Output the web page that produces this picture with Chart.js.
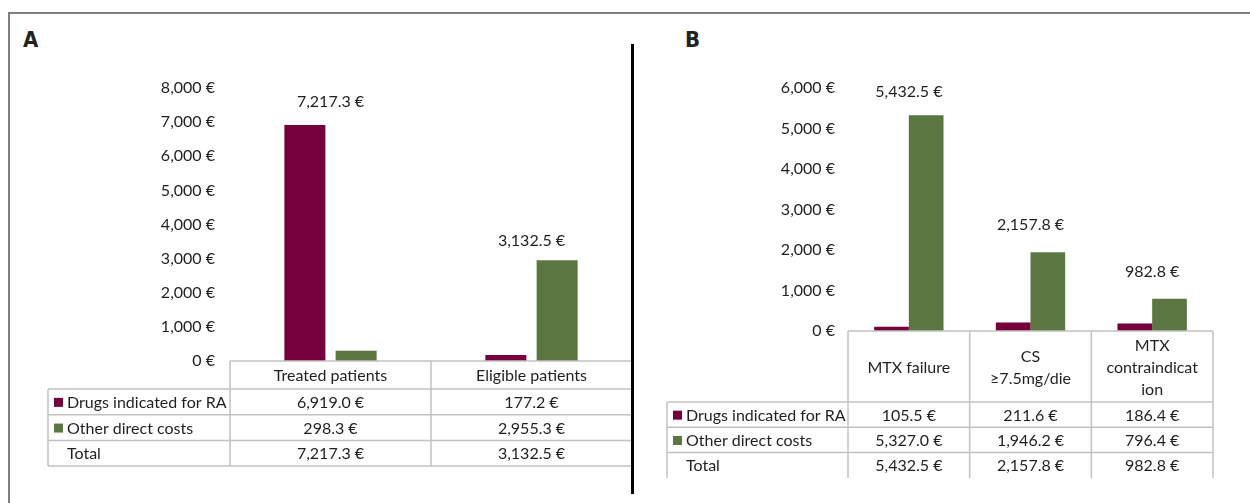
<!DOCTYPE html>
<html>
<head>
<meta charset="utf-8">
<script src="https://cdn.jsdelivr.net/npm/chart.js@4.4.1/dist/chart.umd.min.js"></script>
<style>
    body { margin: 0; background: #fff; width: 1250px; height: 503px; overflow: hidden; position: relative; }
    .frame-top { position: absolute; left: 8px; top: 12px; width: 1242px; height: 2px; background: #808080; }
    .frame-left { position: absolute; left: 8px; top: 12px; width: 2px; height: 491px; background: #808080; }
    .divider { position: absolute; left: 631px; top: 44px; width: 3px; height: 450px; background: #000; }
    .panel-letter { position: absolute; top: 27px; font: bold 22px 'Liberation Sans Narrow', 'DejaVu Sans Condensed', sans-serif; color: #222; }
    canvas { position: absolute; top: 0; }
</style>
</head>
<body>
<div class="frame-top"></div>
<div class="frame-left"></div>
<div class="panel-letter" style="left:23px">A</div>
<div class="panel-letter" style="left:685px">B</div>
<canvas id="chart-a" width="632" height="503" style="left:0"></canvas>
<canvas id="chart-b" width="618" height="503" style="left:632px"></canvas>
<div class="divider"></div>
<script>
// row names of the data table
const rowLabels = ["Drugs indicated for RA", "Other direct costs", "Total"];

// panel A data
const aCategories = ["Treated patients", "Eligible patients"];
const aDrugs = [6919.0, 177.2];
const aOther = [298.3, 2955.3];
const aTotal = [7217.3, 3132.5];
const aTicks = [0, 1000, 2000, 3000, 4000, 5000, 6000, 7000, 8000];

// panel B data
const bCategories = ["MTX failure", ["CS", "≥7.5mg/die"], ["MTX", "contraindicat", "ion"]];
const bDrugs = [105.5, 211.6, 186.4];
const bOther = [5327.0, 1946.2, 796.4];
const bTotal = [5432.5, 2157.8, 982.8];
const bTicks = [0, 1000, 2000, 3000, 4000, 5000, 6000];

const maroon = '#76003b';
const green = '#5b7640';
const textColor = '#1f1f1f';
const fontFamily = "Lato, 'Open Sans', sans-serif";
const fontSize = 16;

Chart.defaults.font.family = fontFamily;
Chart.defaults.font.size = fontSize;
Chart.defaults.color = textColor;

const euro = (v, d) => v.toLocaleString('en-US', { minimumFractionDigits: d, maximumFractionDigits: d }) + ' €';

// total labels above each group
function totalsPlugin(totals, gap) {
    return {
        id: 'totals',
        afterDatasetsDraw(chart) {
            const ctx = chart.ctx;
            const x = chart.scales.x;
            const y = chart.scales.y;
            ctx.save();
            ctx.font = fontSize + 'px ' + fontFamily;
            ctx.fillStyle = textColor;
            ctx.textAlign = 'center';
            ctx.textBaseline = 'middle';
            totals.forEach((t, i) => {
                ctx.fillText(euro(t, 1), x.getPixelForValue(i), y.getPixelForValue(t) - gap);
            });
            ctx.restore();
        }
    };
}

// data table drawn under the plot
function tablePlugin(opts) {
    return {
        id: 'dataTable',
        afterDraw(chart) {
            const ctx = chart.ctx;
            const x = chart.scales.x;
            const area = chart.chartArea;
            const labels = chart.data.labels;
            const colW = (area.right - area.left) / labels.length;
            const top = area.bottom;
            const headBottom = top + opts.headerHeight;
            const rowsBottom = headBottom + opts.rowHeight * 3;
            const rows = [chart.data.datasets[0].data, chart.data.datasets[1].data, opts.totals];
            const colors = [maroon, green, null];

            ctx.save();
            ctx.strokeStyle = '#c2c2c2';
            ctx.lineWidth = 1.5;
            ctx.beginPath();
            // header top
            ctx.moveTo(area.left, top);
            ctx.lineTo(area.right, top);
            // column lines
            for (let i = 0; i <= labels.length; i++) {
                const cx = area.left + i * colW;
                ctx.moveTo(cx, top);
                ctx.lineTo(cx, rowsBottom);
            }
            ctx.moveTo(opts.left, headBottom);
            ctx.lineTo(opts.left, rowsBottom);
            // row lines
            for (let r = 0; r <= 3; r++) {
                if (r === 3 && !opts.bottomLine) continue;
                const ry = headBottom + r * opts.rowHeight;
                ctx.moveTo(opts.left, ry);
                ctx.lineTo(area.right, ry);
            }
            ctx.stroke();

            ctx.fillStyle = textColor;
            ctx.font = fontSize + 'px ' + fontFamily;
            ctx.textBaseline = 'middle';
            ctx.textAlign = 'center';
            // category headers
            labels.forEach((lab, i) => {
                const lines = Array.isArray(lab) ? lab : [lab];
                const cx = x.getPixelForValue(i);
                const midY = (top + headBottom) / 2;
                lines.forEach((line, k) => {
                    ctx.fillText(line, cx, midY + (k - (lines.length - 1) / 2) * opts.lineHeight + 1);
                });
            });
            // rows
            rows.forEach((vals, r) => {
                const cy = headBottom + (r + 0.5) * opts.rowHeight + 1;
                ctx.textAlign = 'left';
                if (colors[r]) {
                    ctx.fillStyle = colors[r];
                    ctx.fillRect(opts.left + 6, cy - 5, 9, 9);
                }
                ctx.fillStyle = textColor;
                ctx.fillText(rowLabels[r], opts.left + 19, cy);
                ctx.textAlign = 'center';
                vals.forEach((v, i) => ctx.fillText(euro(v, 1), x.getPixelForValue(i), cy));
            });
            ctx.restore();
        }
    };
}

function makeOptions(ticks, axisWidth, tickPad, padding) {
    return {
        responsive: false,
        animation: false,
        layout: { padding: padding },
        plugins: { legend: { display: false }, tooltip: { enabled: false } },
        scales: {
            x: { display: false },
            y: {
                min: ticks[0],
                max: ticks[ticks.length - 1],
                afterBuildTicks: (scale) => { scale.ticks = ticks.map(v => ({ value: v })); },
                afterFit: (scale) => { scale.width = axisWidth; },
                grid: { display: false, drawTicks: false },
                border: { display: false },
                ticks: { padding: tickPad, callback: (v) => euro(v, 0) }
            }
        }
    };
}

// Panel A
new Chart(document.getElementById('chart-a'), {
    type: 'bar',
    data: {
        labels: aCategories,
        datasets: [
            { label: rowLabels[0], data: aDrugs, backgroundColor: maroon, categoryPercentage: 0.51, barPercentage: 0.8 },
            { label: rowLabels[1], data: aOther, backgroundColor: green, categoryPercentage: 0.51, barPercentage: 0.8 }
        ]
    },
    options: makeOptions(aTicks, 230, 15, { top: 88, bottom: 142, left: 0, right: 0 }),
    plugins: [
        totalsPlugin(aTotal, 13),
        tablePlugin({ left: 48, headerHeight: 28, rowHeight: 25.7, lineHeight: 22, totals: aTotal, bottomLine: true })
    ]
});

// Panel B
new Chart(document.getElementById('chart-b'), {
    type: 'bar',
    data: {
        labels: bCategories,
        datasets: [
            { label: rowLabels[0], data: bDrugs, backgroundColor: maroon, categoryPercentage: 0.57, barPercentage: 1 },
            { label: rowLabels[1], data: bOther, backgroundColor: green, categoryPercentage: 0.57, barPercentage: 1 }
        ]
    },
    options: makeOptions(bTicks, 216, 13, { top: 88, bottom: 172, left: 0, right: 37 }),
    plugins: [
        totalsPlugin(bTotal, 19),
        tablePlugin({ left: 35, headerHeight: 71, rowHeight: 25.3, lineHeight: 22, totals: bTotal, bottomLine: false })
    ]
});
</script>
</body>
</html>
